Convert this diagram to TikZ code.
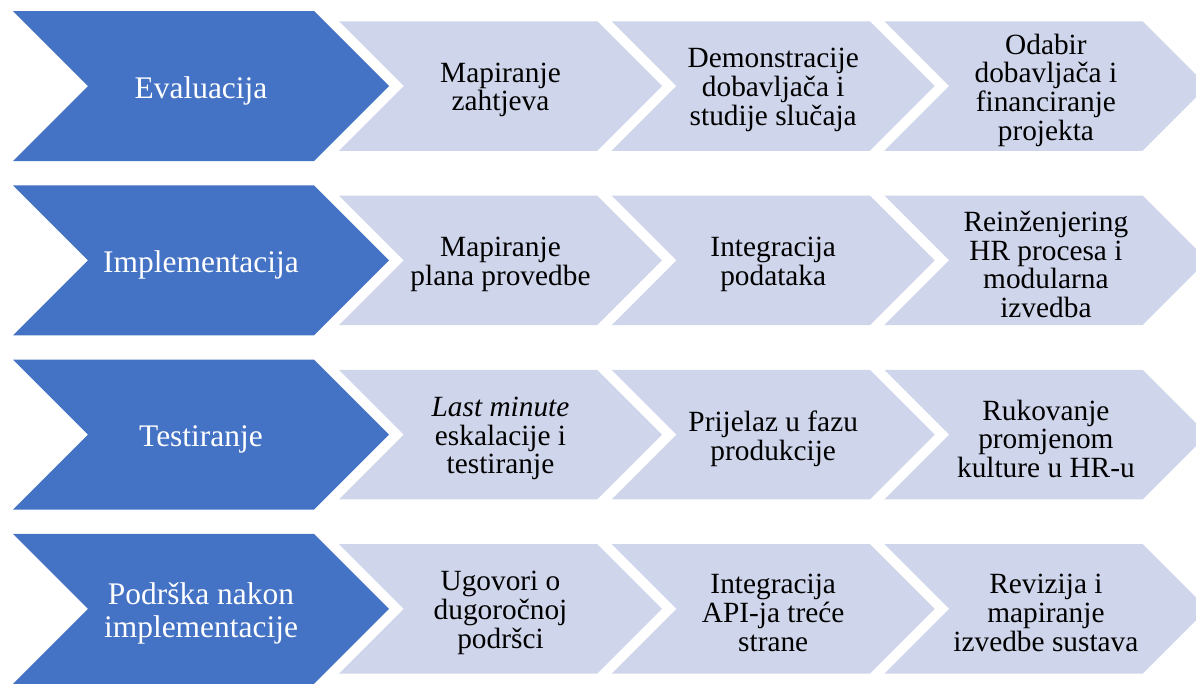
\documentclass[tikz,border=0pt]{standalone}
\usepackage{fontspec}
\setmainfont{Liberation Serif}
\definecolor{phaseblue}{HTML}{4472C4}
\definecolor{tasklight}{HTML}{CFD5EA}

% chevron: style, left x, top y, width, height
\newcommand{\chevron}[5]{%
  \fill[#1] (#2,#3) -- ++(#4-#5/2,0) -- ++(#5/2,#5/2) -- ++(-#5/2,#5/2)
    -- ++(-#4+#5/2,0) -- ++(#5/2,-#5/2) -- cycle;}

\begin{document}
\begin{tikzpicture}[x=0.02cm,y=-0.02cm,
    phase/.style={fill=phaseblue},
    task/.style={fill=tasklight},
    phasetext/.style={text=white,align=center,inner sep=0pt,
      font=\fontsize{17.9}{18.6}\selectfont},
    tasktext/.style={text=black,align=center,inner sep=0pt,
      font=\fontsize{16.7}{16.3}\selectfont}]
	\useasboundingbox (0,0) rectangle (1196,683);
	\clip (0,0) rectangle (1196,683);
	
	\foreach \r/\phasename/\ta/\tb/\tc in {
	  0/{Evaluacija}/{Mapiranje\\zahtjeva}/{Demonstracije\\dobavljača i\\studije slučaja}/{Odabir\\dobavljača i\\financiranje\\projekta},
	  1/{Implementacija}/{Mapiranje\\plana provedbe}/{Integracija\\podataka}/{Reinženjering\\HR procesa i\\modularna\\izvedba},
	  2/{Testiranje}/{\textit{Last minute}\\eskalacije i\\testiranje}/{Prijelaz u fazu\\produkcije}/{Rukovanje\\promjenom\\kulture u HR-u},
	  3/{Podrška nakon\\implementacije}/{Ugovori o\\dugoročnoj\\podršci}/{Integracija\\API-ja treće\\strane}/{Revizija i\\mapiranje\\izvedbe sustava}}
	{
	  \pgfmathsetmacro{\yc}{86+174.3*\r}
	  \chevron{phase}{13}{\yc-75}{376}{150}
	  \node[phasetext] (phase\r) at (201,\yc+4.5) {\phasename};
	  \foreach \k/\txt in {0/\ta,1/\tb,2/\tc} {
	    \chevron{task}{339+272.7*\k}{\yc-64.75}{323}{129.5}
	    \node[tasktext] (task\r-\k) at (500.5+272.7*\k,\yc+4) {\txt};
	  }
	}
	
\end{tikzpicture}
\end{document}
